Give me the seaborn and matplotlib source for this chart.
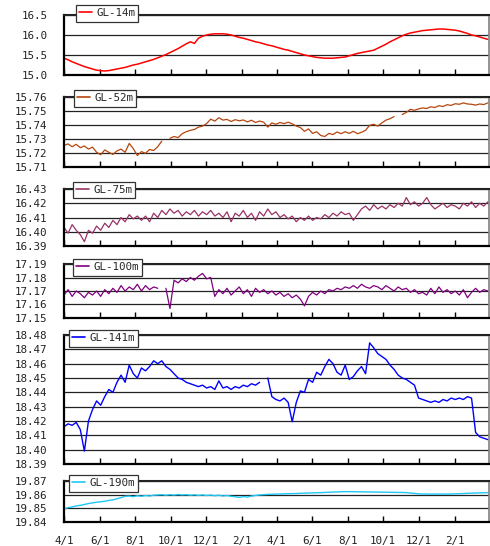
import numpy as np
import pandas as pd
import matplotlib
matplotlib.use("Agg")
import matplotlib.pyplot as plt
from matplotlib.lines import Line2D
import seaborn as sns

# Weekly readings, starting 4/1, two years of record
start_date = "2009-04-01"
end_date = "2011-04-01"

gl14 = [
    15.42, 15.38, 15.33, 15.29, 15.25, 15.21, 15.18, 15.15, 15.12, 15.11,
    15.10, 15.11, 15.13, 15.15, 15.17, 15.19, 15.22, 15.25, 15.27, 15.30,
    15.33, 15.36, 15.39, 15.43, 15.47, 15.51, 15.56, 15.61, 15.66, 15.72,
    15.78, 15.83, 15.79, 15.92, 15.97, 16.00, 16.02, 16.03, 16.03, 16.03,
    16.02, 16.00, 15.97, 15.94, 15.92, 15.89, 15.86, 15.83, 15.81, 15.78,
    15.75, 15.73, 15.70, 15.67, 15.64, 15.62, 15.59, 15.56, 15.53, 15.50,
    15.48, 15.46, 15.44, 15.43, 15.42, 15.42, 15.42, 15.43, 15.44, 15.45,
    15.48, 15.51, 15.54, 15.56, 15.58, 15.60, 15.62, 15.67, 15.72, 15.77,
    15.83, 15.88, 15.93, 15.98, 16.02, 16.05, 16.07, 16.09, 16.11, 16.12,
    16.13, 16.14, 16.15, 16.15, 16.14, 16.13, 16.12, 16.10, 16.07, 16.04,
    16.00, 15.98, 15.95, 15.92, 15.89,
]

gl52 = [
    15.7255, 15.7265, 15.7245, 15.7262, 15.7238, 15.7250, 15.7228, 15.7242, 15.7205, 15.7188,
    15.7222, 15.7205, 15.7190, 15.7215, 15.7228, 15.7205, 15.7268, 15.7232, 15.7182, 15.7210,
    15.7198, 15.7225, 15.7218, 15.7245, 15.7285, np.nan, 15.7305, 15.7318, 15.7310, 15.7338,
    15.7352, 15.7362, 15.7368, 15.7385, 15.7392, 15.7410, 15.7442, 15.7428, 15.7452, 15.7435,
    15.7440, 15.7425, 15.7438, 15.7430, 15.7436, 15.7422, 15.7434, 15.7418, 15.7428, 15.7420,
    15.7385, 15.7415, 15.7405, 15.7418, 15.7410, 15.7420, 15.7408, 15.7392, 15.7382, 15.7355,
    15.7372, 15.7340, 15.7352, 15.7325, 15.7318, 15.7340, 15.7332, 15.7350, 15.7338, 15.7352,
    15.7340, 15.7355, 15.7338, 15.7348, 15.7362, 15.7398, 15.7405, 15.7392, 15.7415, 15.7435,
    15.7445, 15.7460, np.nan, 15.7475, 15.7490, 15.7512, 15.7505, 15.7515, 15.7522, 15.7518,
    15.7530, 15.7525, 15.7538, 15.7532, 15.7545, 15.7540, 15.7552, 15.7548, 15.7558, 15.7550,
    15.7548, 15.7542, 15.7550, 15.7546, 15.7558,
]

gl75 = [
    16.403, 16.399, 16.405, 16.401, 16.398, 16.393, 16.401, 16.399, 16.404, 16.401,
    16.406, 16.403, 16.408, 16.405, 16.410, 16.407, 16.412, 16.409, 16.411, 16.408,
    16.411, 16.407, 16.413, 16.410, 16.415, 16.412, 16.416, 16.413, 16.415, 16.411,
    16.414, 16.412, 16.415, 16.411, 16.414, 16.412, 16.415, 16.411, 16.413, 16.410,
    16.414, 16.407, 16.413, 16.411, 16.415, 16.410, 16.413, 16.408, 16.414, 16.411,
    16.416, 16.412, 16.414, 16.410, 16.412, 16.409, 16.411, 16.407, 16.410, 16.408,
    16.411, 16.408, 16.410, 16.409, 16.412, 16.410, 16.413, 16.411, 16.414, 16.412,
    16.413, 16.408, 16.412, 16.416, 16.418, 16.415, 16.419, 16.416, 16.418, 16.416,
    16.419, 16.417, 16.420, 16.418, 16.424, 16.419, 16.421, 16.418, 16.420, 16.424,
    16.419, 16.416, 16.418, 16.420, 16.417, 16.419, 16.418, 16.416, 16.420, 16.418,
    16.421, 16.417, 16.420, 16.418, 16.421,
]

gl100 = [
    17.167, 17.171, 17.166, 17.170, 17.168, 17.165, 17.169, 17.167, 17.170, 17.166,
    17.171, 17.168, 17.172, 17.169, 17.174, 17.170, 17.173, 17.171, 17.175, 17.170,
    17.174, 17.171, 17.173, 17.172, np.nan, 17.172, 17.157, 17.178, 17.176, 17.179,
    17.177, 17.180, 17.178, 17.181, 17.183, 17.179, 17.180, 17.166, 17.171, 17.168,
    17.172, 17.167, 17.170, 17.173, 17.168, 17.171, 17.166, 17.172, 17.169, 17.171,
    17.168, 17.170, 17.167, 17.169, 17.166, 17.168, 17.165, 17.167, 17.164, 17.159,
    17.166, 17.169, 17.167, 17.170, 17.168, 17.171, 17.170, 17.172, 17.171, 17.173,
    17.172, 17.174, 17.172, 17.175, 17.173, 17.172, 17.174, 17.173, 17.171, 17.174,
    17.172, 17.170, 17.173, 17.171, 17.172, 17.169, 17.171, 17.168, 17.169, 17.167,
    17.172, 17.168, 17.173, 17.169, 17.171, 17.168, 17.170, 17.167, 17.171, 17.165,
    17.169, 17.172, 17.169, 17.171, 17.170,
]

gl141 = [
    18.416, 18.418, 18.417, 18.419, 18.414, 18.399, 18.420, 18.428, 18.434, 18.431,
    18.437, 18.442, 18.440, 18.447, 18.452, 18.447, 18.459, 18.453, 18.450, 18.457,
    18.455, 18.458, 18.462, 18.460, 18.462, 18.458, 18.456, 18.453, 18.450, 18.449,
    18.447, 18.446, 18.445, 18.444, 18.445, 18.443, 18.444, 18.442, 18.448, 18.443,
    18.444, 18.442, 18.444, 18.443, 18.445, 18.444, 18.446, 18.445, 18.447, np.nan,
    18.450, 18.437, 18.435, 18.434, 18.436, 18.433, 18.4195, 18.433, 18.441, 18.440,
    18.449, 18.447, 18.454, 18.452, 18.458, 18.463, 18.460, 18.454, 18.452, 18.459,
    18.449, 18.451, 18.455, 18.458, 18.453, 18.4745, 18.471, 18.467, 18.465, 18.463,
    18.459, 18.456, 18.452, 18.450, 18.449, 18.447, 18.445, 18.436, 18.435, 18.434,
    18.433, 18.434, 18.433, 18.435, 18.434, 18.436, 18.435, 18.436, 18.435, 18.437,
    18.436, 18.412, 18.409, 18.408, 18.407,
]

gl190 = [
    19.8495, 19.8505, 19.8510, 19.8518, 19.8522, 19.8528, 19.8535, 19.8540, 19.8545, 19.8548,
    19.8552, 19.8558, 19.8562, 19.8570, 19.8578, 19.8588, 19.8590, 19.8585, 19.8592, 19.8588,
    19.8594, 19.8590, 19.8596, 19.8598, 19.8600, 19.8596, 19.8600, 19.8597, 19.8601, 19.8598,
    19.8600, 19.8596, 19.8599, 19.8595, 19.8598, 19.8594, 19.8597, 19.8592, 19.8596, 19.8590,
    19.8594, 19.8588, 19.8585, 19.8580, 19.8586, 19.8582, 19.8590, 19.8594, 19.8598, 19.8600,
    19.8602, 19.8603, 19.8604, 19.8605, 19.8606, 19.8607, 19.8608, 19.8608, 19.8610, 19.8611,
    19.8612, 19.8613, 19.8614, 19.8615, 19.8616, 19.8618, 19.8619, 19.8620, 19.8621, 19.8622,
    19.8622, 19.8622, 19.8621, 19.8621, 19.8620, 19.8620, 19.8619, 19.8619, 19.8618, 19.8618,
    19.8617, 19.8617, 19.8616, 19.8616, 19.8615, 19.8612, 19.8609, 19.8606, 19.8605, 19.8605,
    19.8604, 19.8605, 19.8604, 19.8605, 19.8604, 19.8605, 19.8606, 19.8607, 19.8608, 19.8610,
    19.8611, 19.8612, 19.8613, 19.8614, 19.8615,
]

names = ["GL-14m", "GL-52m", "GL-75m", "GL-100m", "GL-141m", "GL-190m"]
series = [gl14, gl52, gl75, gl100, gl141, gl190]
y_ticks = [
    [15.0, 15.5, 16.0, 16.5],
    [15.71, 15.72, 15.73, 15.74, 15.75, 15.76],
    [16.39, 16.40, 16.41, 16.42, 16.43],
    [17.15, 17.16, 17.17, 17.18, 17.19],
    [18.39, 18.40, 18.41, 18.42, 18.43, 18.44, 18.45, 18.46, 18.47, 18.48],
    [19.84, 19.85, 19.86, 19.87],
]
decimals = [1, 2, 2, 2, 2, 2]
colors = ["#ff0000", "#b5460f", "#993366", "#800080", "#0000ff", "#1ec8f5"]
widths = [1.1, 0.9, 0.9, 0.9, 1.0, 1.0]

# Panel placement in pixels: (top, bottom) and legend top-left corner
W, H = 490, 546
LEFT, RIGHT = 64, 489
panel_rows = [(15, 75), (97, 167), (189, 246), (264, 318), (335, 464), (481, 522)]
legend_xy = [(76, 5), (74, 90), (73, 182), (73, 259), (69, 330), (69, 475)]

sns.set_theme(style="white")
plt.rcParams["font.family"] = ["DejaVu Sans Mono"]
FS = 7.8

fig = plt.figure(figsize=(W / 100, H / 100), dpi=100)
fig.patch.set_facecolor("white")

x_ticks = pd.date_range(start_date, "2011-02-01", freq="2MS")
x0, x1 = pd.Timestamp(start_date), pd.Timestamp(end_date)

for i, (name, vals) in enumerate(zip(names, series)):
    top, bot = panel_rows[i]
    ax = fig.add_axes([LEFT / W, 1 - bot / H, (RIGHT - LEFT) / W, (bot - top) / H])

    dates = pd.date_range(start_date, periods=len(vals), freq="7D")
    df = pd.DataFrame({"date": dates, "temp": vals})
    df["seg"] = df["temp"].isna().cumsum()
    df = df.dropna()
    sns.lineplot(data=df, x="date", y="temp", units="seg", estimator=None,
                 color=colors[i], lw=widths[i], ax=ax, legend=False)

    ax.set_xlim(x0, x1)
    ticks = y_ticks[i]
    ax.set_ylim(ticks[0], ticks[-1])
    ax.set_yticks(ticks)
    ax.set_yticklabels([f"{t:.{decimals[i]}f}" for t in ticks], fontsize=FS)
    ax.set_xticks(x_ticks)
    if i == len(names) - 1:
        ax.set_xticklabels([f"{d.month}/{d.day}" for d in x_ticks], fontsize=FS)
    else:
        ax.set_xticklabels([])
    ax.set_xlabel("")
    ax.set_ylabel("")

    ax.tick_params(axis="y", length=0, pad=12, colors="#222222")
    ax.tick_params(axis="x", direction="in", length=4, width=1, color="black",
                   pad=10, labelcolor="#222222", bottom=True, top=False)

    ax.yaxis.grid(True, color="#222222", lw=0.9)
    ax.xaxis.grid(False)
    ax.set_axisbelow(True)

    for side in ["left", "bottom"]:
        ax.spines[side].set_color("black")
        ax.spines[side].set_linewidth(1.6)
    ax.spines["top"].set_color("#222222")
    ax.spines["top"].set_linewidth(1.5)
    ax.spines["right"].set_color("#808080")
    ax.spines["right"].set_linewidth(1.2)

    lx, ly = legend_xy[i]
    handle = Line2D([], [], color=colors[i], lw=1.2)
    leg = ax.legend([handle], [name], loc="upper left",
                    bbox_to_anchor=(lx / W, 1 - ly / H), bbox_transform=fig.transFigure,
                    borderaxespad=0, fontsize=FS, frameon=True, fancybox=False,
                    framealpha=1, handlelength=1.2, handletextpad=0.35,
                    borderpad=0.3)
    leg.get_frame().set_edgecolor("#333333")
    leg.get_frame().set_linewidth(0.9)

fig.savefig("out.png", dpi=100, facecolor="white")
